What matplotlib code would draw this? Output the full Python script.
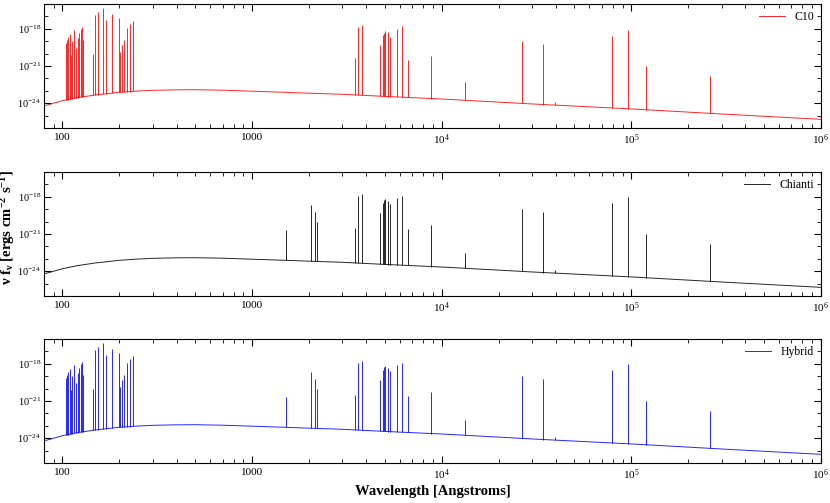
import numpy as np
import matplotlib
matplotlib.use("Agg")
import matplotlib.pyplot as plt
from matplotlib.ticker import FixedLocator, FuncFormatter, LogLocator, NullFormatter

plt.rcParams['font.family'] = ['Liberation Serif', 'DejaVu Serif']
plt.rcParams['mathtext.fontset'] = 'custom'
plt.rcParams['mathtext.rm'] = 'Liberation Serif'
plt.rcParams['mathtext.it'] = 'Liberation Serif:italic'
plt.rcParams['mathtext.bf'] = 'Liberation Serif:bold'

# continuum (wavelength in Angstrom, log10 of nu f_nu)
cont_wl = [80, 90, 100, 120, 150, 200, 250, 300, 400, 500, 700, 1000, 1500, 2000,
           3000, 5000, 1e4, 3e4, 1e5, 3e5, 1e6]
cont_log = [-24.22, -24.0, -23.8, -23.55, -23.33, -23.12, -23.02, -22.96, -22.92,
            -22.91, -22.95, -23.03, -23.12, -23.19, -23.28, -23.45, -23.66, -24.06,
            -24.46, -24.87, -25.3]

# short wavelength lines (only in C10)
euv_wl = [104.1, 105.4, 106.7, 109.3, 111.0, 113.0, 115.7, 118.1, 120.4, 123.0,
          124.9, 126.4, 128.6, 144.5, 149.2, 153.6, 164.0, 169.2, 182.0, 198.0,
          201.6, 206.0, 210.6, 218.5, 226.5, 234.7]
euv_log = [-19.14, -18.92, -18.65, -18.44, -20.08, -19.0, -18.11, -19.54, -18.73, -18.33,
           -18.05, -17.84, -18.87, -20.0, -16.92, -16.62, -16.3, -17.3, -16.78, -17.1,
           -19.9, -19.27, -18.87, -17.95, -17.63, -17.35]

# UV lines (Chianti only)
uv_wl = [1507, 2036, 2156, 2190]
uv_log = [-20.67, -18.64, -19.25, -20.05]

# optical / IR lines (both)
opt_wl = [3489, 3614, 3815, 4748, 4922, 4984, 5047, 5208, 5333, 5808, 6150, 6667, 8824,
          13280, 26660, 34240, 39450, 79400, 96500, 119700, 260500]
opt_log_c10 = [-20.35, -17.84, -17.68, -19.27, -18.46, -18.33, -18.14, -18.25, -18.65,
               -17.98, -17.79, -20.49, -20.17, -22.3, -18.95, -19.19, -23.9, -18.54,
               -18.06, -20.98, -21.8]
opt_log_chianti = [-20.5, -17.95, -17.8, -19.3, -18.5, -18.27, -18.2, -18.3, -18.6,
                   -18.1, -17.92, -20.6, -20.25, -22.5, -19.0, -19.2, -23.9, -18.5,
                   -18.0, -21.0, -21.8]

panels = [
    ("C10", "red", euv_wl + opt_wl, euv_log + opt_log_c10),
    ("Chianti", "black", uv_wl + opt_wl, uv_log + opt_log_chianti),
    ("Hybrid", "blue", euv_wl + uv_wl + opt_wl, euv_log + uv_log + opt_log_chianti),
]

boxes = [(0.053, 0.7455, 0.936, 0.2465),
         (0.053, 0.4115, 0.936, 0.2465),
         (0.053, 0.0795, 0.936, 0.2465)]


def xfmt(v, pos):
    if v < 5000:
        return "%d" % round(v)
    return r"$10^{%d}$" % round(np.log10(v))


def yfmt(v, pos):
    return r"$10^{%d}$" % round(np.log10(v))


fig = plt.figure(figsize=(8.3, 5.03), dpi=100)
cw = np.array(cont_wl)
cl = np.array(cont_log)
for (name, col, lw, lv), box in zip(panels, boxes):
    ax = fig.add_axes(box)
    ax.plot(cw, 10 ** cl, color=col, lw=0.7, alpha=0.85, label=name)
    lw = np.array(lw)
    base = 10 ** np.interp(np.log10(lw), np.log10(cw), cl)
    ax.vlines(lw, base, 10 ** np.array(lv), color=col, lw=0.7, alpha=0.85)
    ax.set_xscale('log')
    ax.set_yscale('log')
    ax.set_xlim(80, 1e6)
    ax.set_ylim(1e-26, 1e-16)
    ax.yaxis.set_major_locator(FixedLocator([1e-24, 1e-21, 1e-18]))
    ax.yaxis.set_minor_locator(FixedLocator([10.0 ** k for k in range(-26, -15)]))
    ax.yaxis.set_major_formatter(FuncFormatter(yfmt))
    ax.yaxis.set_minor_formatter(NullFormatter())
    ax.xaxis.set_major_locator(LogLocator(base=10, numticks=10))
    ax.xaxis.set_minor_locator(LogLocator(base=10, subs=np.arange(2, 10), numticks=20))
    ax.xaxis.set_major_formatter(FuncFormatter(xfmt))
    ax.xaxis.set_minor_formatter(NullFormatter())
    ax.tick_params(which='both', direction='in', top=True, right=True, labelsize=8)
    ax.tick_params(axis='y', labelsize=7.5, pad=2)
    ax.tick_params(which='major', length=5)
    ax.tick_params(which='minor', length=3)
    for s in ax.spines.values():
        s.set_linewidth(0.8)
    ax.legend(loc='upper right', frameon=False, fontsize=8.5, handlelength=2.2,
              borderaxespad=0.2)

fig.text(0.0095, 0.547, r"ν f$_\mathbf{ν}$ [ergs cm$^\mathbf{-2}$ s$^\mathbf{-1}$]",
         rotation=90, va='center', ha='center', fontsize=10.5, fontweight='bold')
fig.text(0.522, 0.022, "Wavelength [Angstroms]", ha='center', va='center',
         fontsize=10.5, fontweight='bold')

fig.savefig("out.png", dpi=100)
